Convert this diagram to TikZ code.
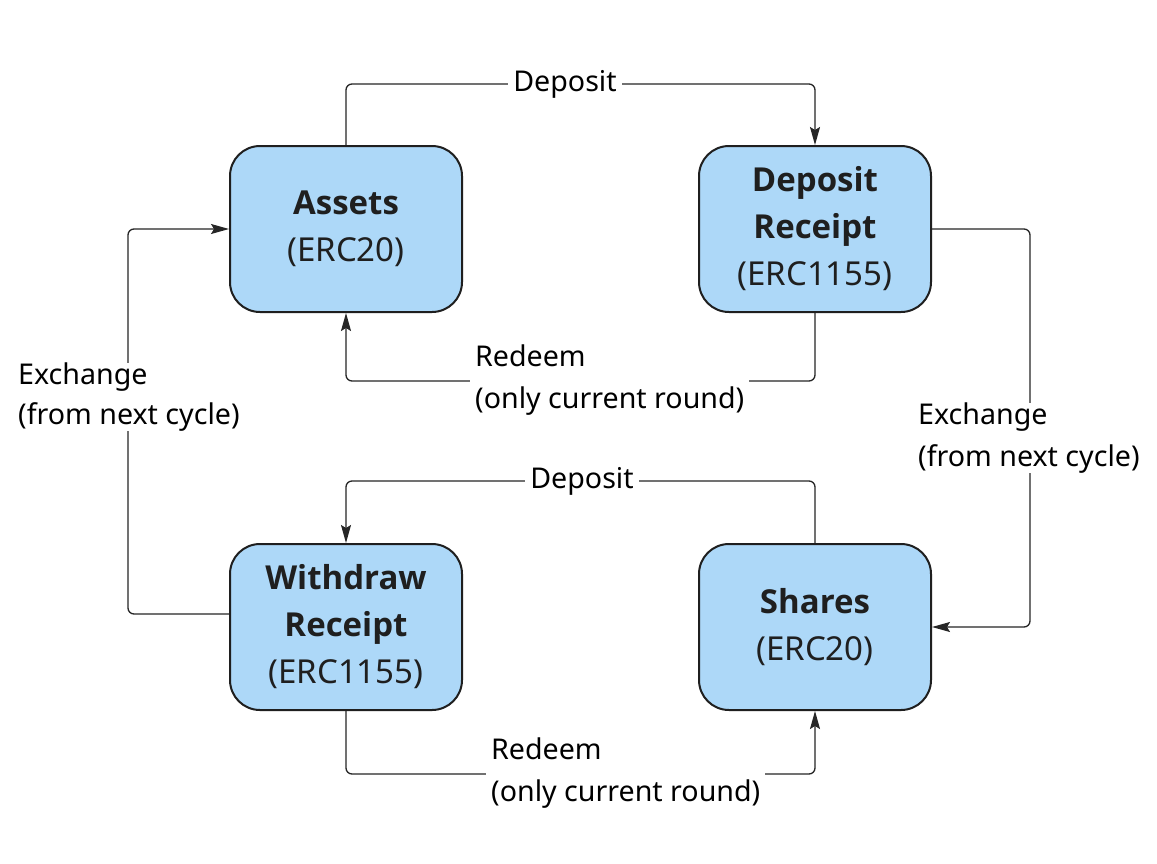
\documentclass[tikz,border=0pt]{standalone}
\usepackage{fontspec}
\setmainfont{Noto Sans}
\newfontfamily\titlefont{Open Sans}
\usetikzlibrary{arrows.meta}
\definecolor{boxfill}{HTML}{ADD8F8}
\definecolor{boxline}{HTML}{1F1F1F}
\definecolor{txt}{HTML}{1F1F1F}
\newcommand{\ttl}[1]{{\titlefont\bfseries #1}}
\tikzset{
  card/.style={draw=boxline, fill=boxfill, line width=2pt, rounded corners=30pt,
    minimum width=232pt, minimum height=166pt, align=center, text=txt,
    font=\fontsize{33pt}{47pt}\selectfont},
  conn/.style={draw=black!85, line width=1.3pt, rounded corners=6pt,
    -{Stealth[length=18pt,width=10pt,inset=3pt]}},
  lbl/.style={fill=white, inner xsep=5pt, inner ysep=0pt, align=left, text=black,
    font=\fontsize{28.6pt}{42pt}\selectfont}
}
\begin{document}
\begin{tikzpicture}[x=1pt,y=-1pt]
\useasboundingbox[fill=white] (0,0) rectangle (1157,863);
\node[card] (assets) at (346,229) {\ttl{Assets}\\(ERC20)};
\node[card] (deposit) at (815,229) {\ttl{Deposit}\\\ttl{Receipt}\\(ERC1155)};
\node[card] (withdraw) at (346,627) {\ttl{Withdraw}\\\ttl{Receipt}\\(ERC1155)};
\node[card] (shares) at (815,627) {\ttl{Shares}\\(ERC20)};

\draw[conn] (assets.north) -- ++(0,-61) -| (deposit.north);
\draw[conn] (deposit.south) -- ++(0,68) -| (assets.south);
\draw[conn] (deposit.east) -- ++(98,0) |- (shares.east);
\draw[conn] (shares.north) -- ++(0,-62) -| (withdraw.north);
\draw[conn] (withdraw.south) -- ++(0,63) -| (shares.south);
\draw[conn] ([yshift=13pt]withdraw.west) -- ++(-101,0) |- (assets.west);

\node[lbl] (l1) at (565,84) {Deposit};
\node[lbl] (l2) at (582,481) {Deposit};
\node[lbl, anchor=west] (l3) at (470,380) {Redeem\\(only current round)};
\node[lbl, anchor=west] (l4) at (486,773) {Redeem\\(only current round)};
\node[lbl, anchor=west] (l5) at (913,438) {Exchange\\(from next cycle)};
\node[lbl, anchor=west, font=\fontsize{28.6pt}{40pt}\selectfont] (l6) at (13,397) {Exchange\\(from next cycle)};
\end{tikzpicture}
\end{document}
